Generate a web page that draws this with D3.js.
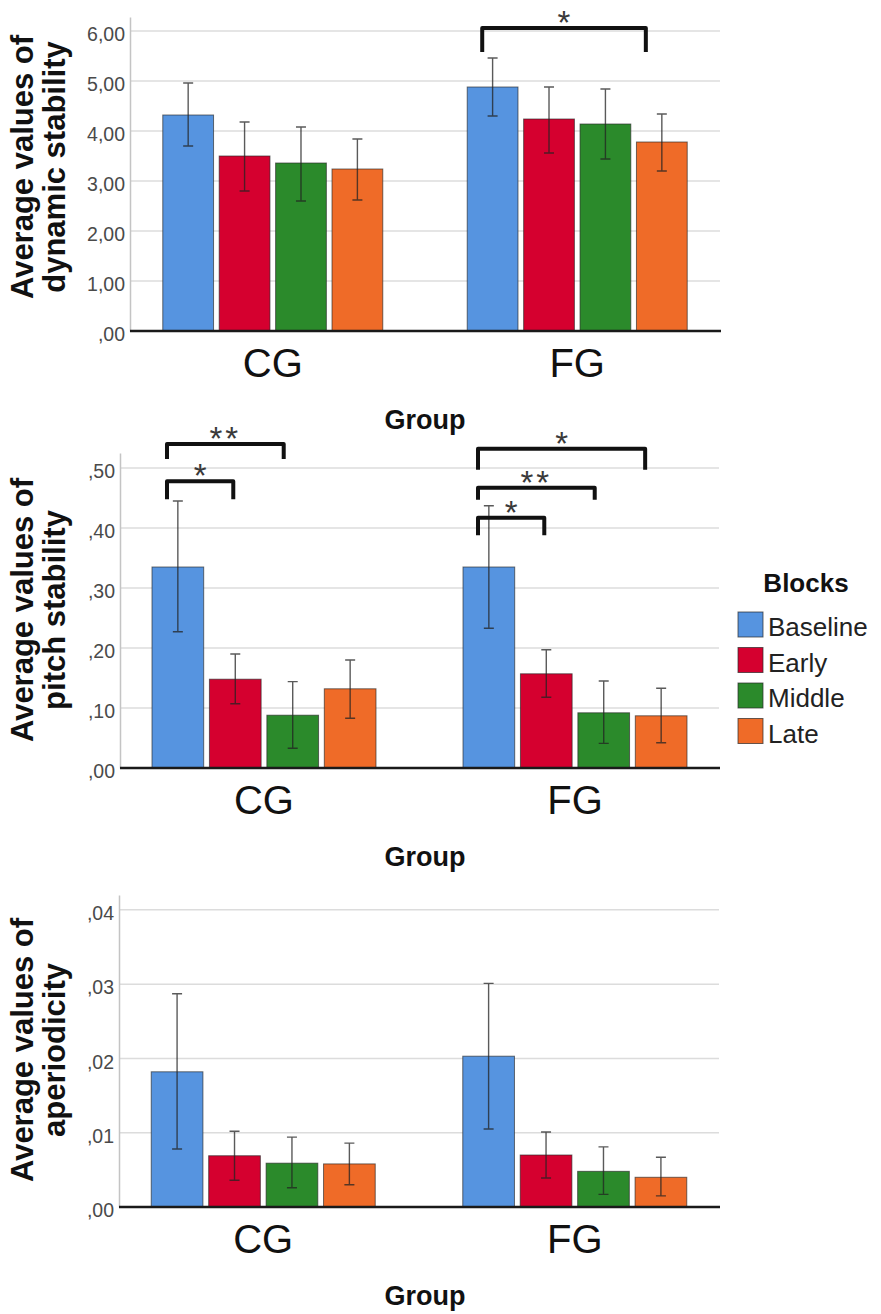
<!DOCTYPE html>
<html>
<head>
<meta charset="utf-8">
<script src="https://cdn.jsdelivr.net/npm/d3@7"></script>
<style>
  html, body { margin: 0; padding: 0; background: #fff; }
  svg { display: block; font-family: "Liberation Sans", Arial, sans-serif; }
</style>
</head>
<body>
<svg id="chart" width="881" height="1314"></svg>
<script>
// ---- data -------------------------------------------------------------
const groups = ["CG", "FG"];
const blocks = ["Baseline", "Early", "Middle", "Late"];
const blockColors = ["#5694e0", "#d5002f", "#2b8a2b", "#ef6b28"];

// dynamic stability: means and 95% CI bounds, per group (Baseline..Late)
const dynMeanCG = [4.32, 3.50, 3.36, 3.24];
const dynMeanFG = [4.88, 4.24, 4.14, 3.78];
const dynLowCG  = [3.70, 2.80, 2.60, 2.62];
const dynLowFG  = [4.30, 3.56, 3.44, 3.20];
const dynHighCG = [4.96, 4.18, 4.08, 3.84];
const dynHighFG = [5.46, 4.88, 4.84, 4.34];
const dynTicks  = [0, 1, 2, 3, 4, 5, 6];
const dynTickLabels = [",00", "1,00", "2,00", "3,00", "4,00", "5,00", "6,00"];

// pitch stability
const pitchMeanCG = [0.335, 0.148, 0.088, 0.132];
const pitchMeanFG = [0.335, 0.157, 0.092, 0.087];
const pitchLowCG  = [0.227, 0.107, 0.033, 0.083];
const pitchLowFG  = [0.233, 0.118, 0.041, 0.042];
const pitchHighCG = [0.445, 0.190, 0.144, 0.180];
const pitchHighFG = [0.437, 0.197, 0.145, 0.133];
const pitchTicks  = [0, 0.1, 0.2, 0.3, 0.4, 0.5];
const pitchTickLabels = [",00", ",10", ",20", ",30", ",40", ",50"];

// aperiodicity
const aperMeanCG = [0.0182, 0.0069, 0.0059, 0.0058];
const aperMeanFG = [0.0203, 0.0070, 0.0048, 0.0040];
const aperLowCG  = [0.0078, 0.0036, 0.0026, 0.0030];
const aperLowFG  = [0.0105, 0.0039, 0.0017, 0.0015];
const aperHighCG = [0.0287, 0.0102, 0.0094, 0.0086];
const aperHighFG = [0.0301, 0.0101, 0.0081, 0.0067];
const aperTicks  = [0, 0.01, 0.02, 0.03, 0.04];
const aperTickLabels = [",00", ",01", ",02", ",03", ",04"];

// significance annotations: bar indices compared, label, bracket level and leg end
const dynBrackets = [
  { group: "FG", from: 0, to: 3, label: "*", top: 6.06, leg: 5.58 }
];
const pitchBrackets = [
  { group: "CG", from: 0, to: 2, label: "**", top: 0.540, leg: 0.515 },
  { group: "CG", from: 0, to: 1, label: "*",  top: 0.478, leg: 0.448 },
  { group: "FG", from: 0, to: 3, label: "*",  top: 0.532, leg: 0.497 },
  { group: "FG", from: 0, to: 2, label: "**", top: 0.467, leg: 0.447 },
  { group: "FG", from: 0, to: 1, label: "*",  top: 0.417, leg: 0.388 }
];

// rows of { group, block, i, mean, low, high }
function rows(meanCG, meanFG, lowCG, lowFG, highCG, highFG) {
  const out = [];
  const m = { CG: meanCG, FG: meanFG }, l = { CG: lowCG, FG: lowFG }, h = { CG: highCG, FG: highFG };
  groups.forEach(g => blocks.forEach((b, i) => out.push({ group: g, block: b, i, mean: m[g][i], low: l[g][i], high: h[g][i] })));
  return out;
}

const svg = d3.select("#chart");

function drawPanel(p) {
  const g = svg.append("g");
  const y = d3.scaleLinear().domain(p.domain).range([p.bottom, p.top]);
  const x = d3.scalePoint().domain(groups).range([p.left, p.right]).padding(p.pad);
  const xi = d3.scaleBand().domain(d3.range(blocks.length)).range([-p.span / 2, p.span / 2]).paddingInner(0.1);

  // gridlines
  g.append("g").selectAll("line").data(p.ticks.filter(t => t > 0)).join("line")
    .attr("x1", p.left).attr("x2", p.right)
    .attr("y1", d => y(d)).attr("y2", d => y(d))
    .attr("stroke", "#dcdcdc").attr("stroke-width", 1.5);

  // y axis with comma-decimal tick labels
  const yAxis = d3.axisLeft(y).tickValues(p.ticks).tickSize(0).tickPadding(5)
    .tickFormat((d, i) => p.tickLabels[i]);
  const ya = g.append("g").attr("transform", `translate(${p.left},0)`).call(yAxis);
  ya.select(".domain").attr("stroke", "#c4c4c4").attr("stroke-width", 1.5);
  ya.selectAll("text").attr("font-size", 19.5).attr("fill", "#4a4a4a").attr("dy", "0.5em")
    .attr("font-family", "Liberation Sans, Arial, sans-serif");

  const data = rows(...p.series);
  const bx = d => x(d.group) + xi(d.i);
  const bw = xi.bandwidth();

  // bars
  g.append("g").selectAll("rect").data(data).join("rect")
    .attr("x", bx).attr("width", bw)
    .attr("y", d => y(d.mean)).attr("height", d => y(0) - y(d.mean))
    .attr("fill", d => blockColors[d.i])
    .attr("stroke", "rgba(40,40,40,0.65)").attr("stroke-width", 1);

  // error bars
  const eb = g.append("g").attr("stroke", "rgba(35,35,35,0.75)").attr("stroke-width", 1.4).attr("fill", "none");
  eb.selectAll("path").data(data).join("path")
    .attr("d", d => {
      const cx = bx(d) + bw / 2, c = 5;
      return `M${cx},${y(d.high)}V${y(d.low)}M${cx - c},${y(d.high)}H${cx + c}M${cx - c},${y(d.low)}H${cx + c}`;
    });

  // baseline
  g.append("line").attr("x1", p.left).attr("x2", p.right + 1)
    .attr("y1", y(0)).attr("y2", y(0)).attr("stroke", "#1a1a1a").attr("stroke-width", 2.5);

  // category labels
  g.append("g").selectAll("text").data(groups).join("text")
    .attr("x", d => x(d)).attr("y", y(0) + 46)
    .attr("text-anchor", "middle").attr("font-size", 40).attr("fill", "#111")
    .text(d => d);

  // x title
  g.append("text").attr("x", 425).attr("y", y(0) + 98)
    .attr("text-anchor", "middle").attr("font-size", 27).attr("font-weight", "bold").attr("fill", "#111")
    .text("Group");

  // y title (two lines, rotated)
  const yt = g.append("text").attr("transform", `translate(0,${p.titleY}) rotate(-90)`)
    .attr("text-anchor", "middle").attr("font-size", 31).attr("font-weight", "bold").attr("fill", "#111");
  p.title.forEach((line, k) => yt.append("tspan").attr("x", 0).attr("y", 33 + k * 32).text(line));

  // significance brackets
  (p.brackets || []).forEach(b => {
    const x0 = x(b.group) + xi(b.from) + 15;
    const x1 = x(b.group) + xi(b.to) + bw / 2 - 2 - 7 * (b.to - 1);
    g.append("path")
      .attr("d", `M${x0},${y(b.leg)}V${y(b.top)}H${x1}V${y(b.leg)}`)
      .attr("fill", "none").attr("stroke", "#111").attr("stroke-width", 4).attr("stroke-linejoin", "round");
    g.append("text").attr("x", (x0 + x1) / 2).attr("y", y(b.top) - 13 + 19)
      .attr("text-anchor", "middle").attr("font-size", 33).attr("fill", "#3a3a3a")
      .attr("letter-spacing", b.label.length > 1 ? 3 : 0)
      .text(b.label);
  });
  return { x, y };
}

drawPanel({
  top: 17, bottom: 331, left: 130, right: 720, pad: 0.469, span: 220,
  domain: [0, 6.28], ticks: dynTicks, tickLabels: dynTickLabels,
  series: [dynMeanCG, dynMeanFG, dynLowCG, dynLowFG, dynHighCG, dynHighFG],
  title: ["Average values of", "dynamic stability"], titleY: 167,
  brackets: dynBrackets
});

drawPanel({
  top: 453, bottom: 768, left: 120, right: 719, pad: 0.463, span: 224,
  domain: [0, 0.525], ticks: pitchTicks, tickLabels: pitchTickLabels,
  series: [pitchMeanCG, pitchMeanFG, pitchLowCG, pitchLowFG, pitchHighCG, pitchHighFG],
  title: ["Average values of", "pitch stability"], titleY: 610,
  brackets: pitchBrackets
});

drawPanel({
  top: 895, bottom: 1207, left: 119, right: 719, pad: 0.463, span: 224,
  domain: [0, 0.042], ticks: aperTicks, tickLabels: aperTickLabels,
  series: [aperMeanCG, aperMeanFG, aperLowCG, aperLowFG, aperHighCG, aperHighFG],
  title: ["Average values of", "aperiodicity"], titleY: 1050
});

// legend
const lg = svg.append("g");
lg.append("text").attr("x", 806).attr("y", 592).attr("text-anchor", "middle")
  .attr("font-size", 26).attr("font-weight", "bold").attr("fill", "#111").text("Blocks");
const items = lg.selectAll("g.item").data(blocks).join("g").attr("class", "item")
  .attr("transform", (d, i) => `translate(738,${612 + i * 35.5})`);
items.append("rect").attr("width", 25).attr("height", 25)
  .attr("fill", (d, i) => blockColors[i]).attr("stroke", "rgba(40,40,40,0.7)").attr("stroke-width", 1);
items.append("text").attr("x", 30).attr("y", 24)
  .attr("font-size", 26).attr("fill", "#222").text(d => d);
</script>
</body>
</html>
